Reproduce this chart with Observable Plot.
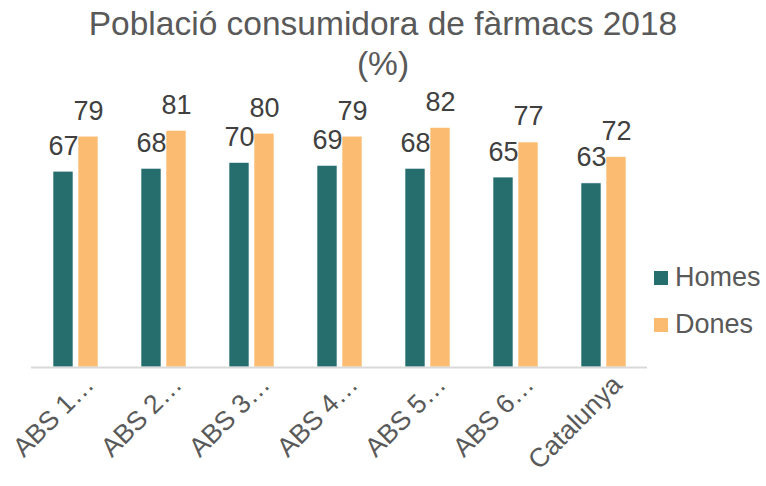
<!DOCTYPE html>
<html>
<head>
<meta charset="utf-8">
<script src="https://cdn.jsdelivr.net/npm/d3@7"></script>
<script src="https://cdn.jsdelivr.net/npm/@observablehq/plot@0.6"></script>
<style>
  html, body { margin: 0; padding: 0; background: #fff; }
  #wrap { position: relative; width: 766px; height: 486px; font-family: "Liberation Sans", Arial, sans-serif; overflow: hidden; }
  #title { position: absolute; left: 0; top: 4px; width: 766px; text-align: center; font-size: 33.5px; line-height: 40px; color: #595959; }
  .leg { position: absolute; left: 654px; font-size: 27px; line-height: 27px; color: #595959; display: flex; align-items: center; white-space: nowrap; }
  .sw { width: 14px; height: 14px; margin-right: 7px; }
  #chart { position: absolute; left: 0; top: 0; }
</style>
</head>
<body>
<div id="wrap">
  <div id="chart"></div>
  <div id="title">Població consumidora de fàrmacs 2018<br>(%)</div>
  <div id="legend"></div>
</div>
<script>
const categories = ["ABS 1…", "ABS 2…", "ABS 3…", "ABS 4…", "ABS 5…", "ABS 6…", "Catalunya"];
const seriesNames = ["Homes", "Dones"];
const homes = [67, 68, 70, 69, 68, 65, 63];
const dones = [79, 81, 80, 79, 82, 77, 72];
const colors = ["#266e6e", "#fbbc72"];

const data = [];
categories.forEach((c, i) => {
  data.push({cat: c, serie: "Homes", value: homes[i]});
  data.push({cat: c, serie: "Dones", value: dones[i]});
});

const plot = Plot.plot({
  width: 766,
  height: 486,
  marginLeft: 30,
  marginRight: 118,
  marginTop: 104,
  marginBottom: 119,
  style: {fontFamily: "Liberation Sans, Arial, sans-serif", background: "transparent"},
  fx: {domain: categories, padding: 0, axis: null},
  x: {domain: seriesNames, paddingInner: 0.2, paddingOuter: 0.84, axis: null},
  y: {domain: [0, 90], axis: null},
  color: {domain: seriesNames, range: colors},
  marks: [
    Plot.barY(data, {fx: "cat", x: "serie", y: "value", fill: "serie", stroke: "#ffffff", strokeWidth: 0.6}),
    Plot.ruleY([0], {stroke: "#d9d9d9", strokeWidth: 2}),
    Plot.text(data, {fx: "cat", x: "serie", y: "value", text: d => String(d.value), lineAnchor: "bottom", dy: -17, fontSize: 27, fill: "#404040"}),
    Plot.axisFx({anchor: "bottom", tickSize: 0, tickRotate: -45, fontSize: 26.5, fill: "#595959", dx: 14, dy: 1, label: null})
  ]
});
document.getElementById("chart").appendChild(plot);

const legend = document.getElementById("legend");
const legTops = [264, 311];
seriesNames.forEach((s, i) => {
  const item = document.createElement("div");
  item.className = "leg";
  item.style.top = legTops[i] + "px";
  const sw = document.createElement("div");
  sw.className = "sw";
  sw.style.background = colors[i];
  item.appendChild(sw);
  item.appendChild(document.createTextNode(s));
  legend.appendChild(item);
});
</script>
</body>
</html>
